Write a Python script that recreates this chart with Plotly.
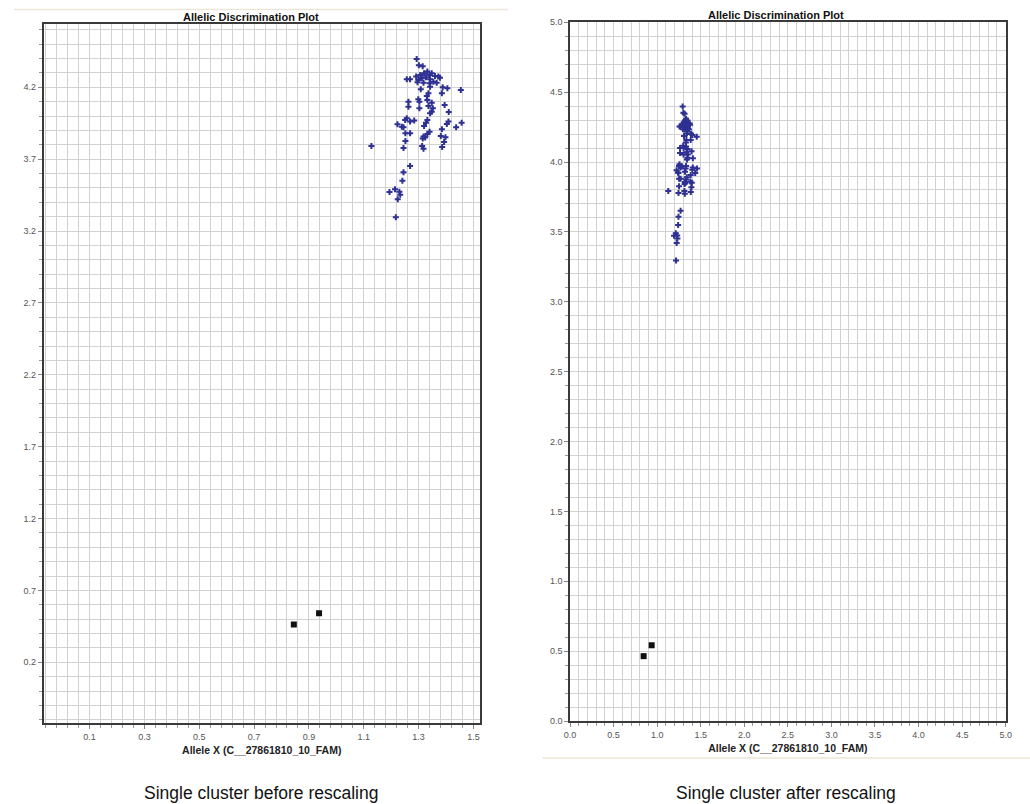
import plotly.graph_objects as go

# ---- data (same samples shown in both panels) ----
allele_x = [1.293, 1.301, 1.315, 1.257, 1.269, 1.291, 1.306, 1.320, 1.332, 1.340,
            1.348, 1.360, 1.372, 1.378, 1.299, 1.312, 1.327, 1.342, 1.354, 1.366,
            1.340, 1.318, 1.296, 1.308, 1.342, 1.388, 1.405, 1.454, 1.336, 1.330,
            1.385, 1.263, 1.299, 1.303, 1.332, 1.348, 1.395, 1.263, 1.303, 1.336,
            1.352, 1.348, 1.342, 1.410, 1.257, 1.251, 1.284, 1.269, 1.332, 1.327,
            1.320, 1.409, 1.403, 1.457, 1.437, 1.223, 1.239, 1.245, 1.269, 1.252,
            1.340, 1.332, 1.385, 1.398, 1.381, 1.318, 1.315, 1.324, 1.252, 1.393,
            1.386, 1.245, 1.313, 1.318, 1.128, 1.269, 1.245, 1.241, 1.214, 1.194,
            1.230, 1.233, 1.224, 1.217]
allele_y = [4.397, 4.353, 4.346, 4.255, 4.255, 4.274, 4.285, 4.297, 4.309, 4.285,
            4.297, 4.279, 4.274, 4.267, 4.251, 4.262, 4.269, 4.255, 4.239, 4.232,
            4.228, 4.232, 4.235, 4.186, 4.204, 4.200, 4.193, 4.181, 4.158, 4.139,
            4.158, 4.100, 4.116, 4.100, 4.112, 4.093, 4.077, 4.065, 4.054, 4.070,
            4.054, 4.030, 4.019, 4.028, 3.984, 3.972, 3.968, 3.961, 3.972, 3.954,
            3.931, 3.961, 3.945, 3.954, 3.921, 3.942, 3.926, 3.921, 3.880, 3.880,
            3.891, 3.875, 3.908, 3.852, 3.861, 3.857, 3.843, 3.850, 3.826, 3.819,
            3.785, 3.778, 3.792, 3.773, 3.792, 3.652, 3.608, 3.550, 3.490, 3.472,
            3.474, 3.453, 3.421, 3.295]
ntc_x = [0.845, 0.937]
ntc_y = [0.464, 0.542]

left_xticks = [0.1, 0.3, 0.5, 0.7, 0.9, 1.1, 1.3, 1.5]
left_yticks = [0.2, 0.7, 1.2, 1.7, 2.2, 2.7, 3.2, 3.7, 4.2]
right_ticks = [0.0, 0.5, 1.0, 1.5, 2.0, 2.5, 3.0, 3.5, 4.0, 4.5, 5.0]

title_text = "Allelic Discrimination Plot"
xlabel_text = "Allele X (C__27861810_10_FAM)"
captions = ["Single cluster before rescaling", "Single cluster after rescaling"]

BLUE = "#2e3192"
FONT = "Liberation Sans, Arial, sans-serif"
GRID = "#d2d2d2"
AXC = "#3a3a3a"

W, H = 1030, 804
def px(x):
    return x / W
def py(y):
    return 1 - y / H

fig = go.Figure()
for i, (xa, ya) in enumerate([("x", "y"), ("x2", "y2")]):
    fig.add_trace(go.Scatter(x=allele_x, y=allele_y, mode="markers", xaxis=xa, yaxis=ya,
                             marker=dict(symbol="cross", size=5, color=BLUE,
                                         line=dict(width=0)),
                             showlegend=False, hoverinfo="x+y"))
    fig.add_trace(go.Scatter(x=ntc_x, y=ntc_y, mode="markers", xaxis=xa, yaxis=ya,
                             marker=dict(symbol="square", size=6, color="#111111"),
                             showlegend=False, hoverinfo="x+y"))

tickfont = dict(family=FONT, size=9, color="#555555")
common = dict(showline=True, linecolor=AXC, linewidth=1.5, mirror=True,
              showgrid=True, gridcolor=GRID, gridwidth=1, zeroline=False,
              ticks="outside", ticklen=4, tickcolor="#888888", tickfont=tickfont)

fig.update_layout(
    width=W, height=H, paper_bgcolor="white", plot_bgcolor="white",
    margin=dict(l=0, r=0, t=0, b=0, autoexpand=False),
    xaxis=dict(domain=[px(43.5), px(480)], range=[-0.068, 1.524], anchor="y",
               tickvals=left_xticks, ticktext=[f"{v:.1f}" for v in left_xticks],
               minor=dict(tick0=0.1, dtick=0.04, showgrid=True, gridcolor=GRID,
                          ticks="outside", ticklen=3, tickcolor="#999999"),
               title=dict(text="<b>" + xlabel_text + "</b>",
                          font=dict(family=FONT, size=10.5, color="#222222"), standoff=6),
               **common),
    yaxis=dict(domain=[py(723.3), py(24)], range=[-0.224, 4.64], anchor="x",
               tickvals=left_yticks, ticktext=[f"{v:.1f}" for v in left_yticks],
               minor=dict(tick0=0.2, dtick=0.1, showgrid=True, gridcolor=GRID,
                          ticks="outside", ticklen=3, tickcolor="#999999"),
               **common),
    xaxis2=dict(domain=[px(570), px(1005.7)], range=[0, 5], anchor="y2",
                tickvals=right_ticks, ticktext=[f"{v:.1f}" for v in right_ticks],
                minor=dict(tick0=0, dtick=0.1, showgrid=True, gridcolor=GRID,
                           ticks="outside", ticklen=3, tickcolor="#999999"),
                title=dict(text="<b>" + xlabel_text + "</b>",
                           font=dict(family=FONT, size=10.5, color="#222222"), standoff=6),
                **common),
    yaxis2=dict(domain=[py(721), py(22.3)], range=[0, 5], anchor="x2",
                tickvals=right_ticks, ticktext=[f"{v:.1f}" for v in right_ticks],
                minor=dict(tick0=0, dtick=0.1, showgrid=True, gridcolor=GRID,
                           ticks="outside", ticklen=3, tickcolor="#999999"),
                **common),
)

annotations = [
    dict(text="<b>" + title_text + "</b>", x=px(251), y=py(17), xref="paper", yref="paper",
         showarrow=False, font=dict(family=FONT, size=11, color="#111111"),
         xanchor="center", yanchor="middle"),
    dict(text="<b>" + title_text + "</b>", x=px(776), y=py(15), xref="paper", yref="paper",
         showarrow=False, font=dict(family=FONT, size=11, color="#111111"),
         xanchor="center", yanchor="middle"),
    dict(text=captions[0], x=px(261), y=py(793), xref="paper", yref="paper",
         showarrow=False, font=dict(family=FONT, size=17.5, color="#111111"),
         xanchor="center", yanchor="middle"),
    dict(text=captions[1], x=px(786), y=py(793), xref="paper", yref="paper",
         showarrow=False, font=dict(family=FONT, size=17.5, color="#111111"),
         xanchor="center", yanchor="middle"),
]
fig.update_layout(annotations=annotations)

fig.update_layout(shapes=[
    dict(type="line", xref="paper", yref="paper", x0=px(14), x1=px(508), y0=py(9.5), y1=py(9.5),
         line=dict(color="#ece6d6", width=1.5)),
    dict(type="line", xref="paper", yref="paper", x0=px(542), x1=px(1030), y0=py(758), y1=py(758),
         line=dict(color="#ece6d6", width=1.5)),
])

fig.write_html("out.html", config={"displayModeBar": False},
               post_script="document.body.style.margin='0';document.body.style.overflow='hidden';")
